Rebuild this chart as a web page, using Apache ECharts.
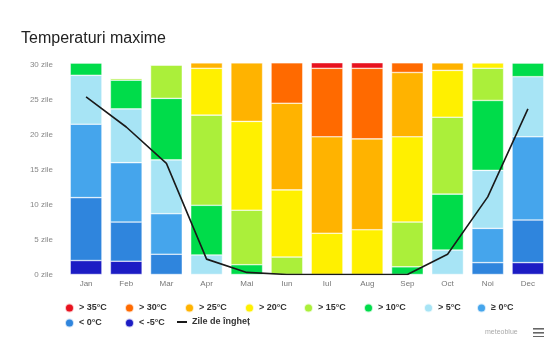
<!DOCTYPE html>
<html>
<head>
<meta charset="utf-8">
<title>Temperaturi maxime</title>
<script src="https://cdn.jsdelivr.net/npm/echarts@6/dist/echarts.min.js"></script>
<style>
  html, body { margin: 0; padding: 0; background: #fff; }
  #chart { width: 553px; height: 337px; }
</style>
</head>
<body>
<div id="chart"></div>
<script>
// Months
const months = ['Jan', 'Feb', 'Mar', 'Apr', 'Mai', 'Iun', 'Iul', 'Aug', 'Sep', 'Oct', 'Noi', 'Dec'];

// Days per month with daily maximum temperature in each band
const below5  = [2.0, 1.9, 0,   0,    0,    0,    0,    0,    0,    0,    0,    1.7];   // < -5°C
const below0  = [9.0, 5.6, 2.9, 0,    0,    0,    0,    0,    0,    0,    1.7,  6.1];   // < 0°C
const above0  = [10.5, 8.5, 5.8, 0,   0,    0,    0,    0,    0,    0,    4.9,  11.9];  // ≥ 0°C
const above5  = [7.0, 7.7, 7.7, 2.8,  0,    0,    0,    0,    0,    3.5,  8.3,  8.6];   // > 5°C
const above10 = [1.8, 4.1, 8.8, 7.1,  1.4,  0,    0,    0,    1.1,  8.0,  10.0, 2.0];   // > 10°C
const above15 = [0,   0.3, 4.8, 12.9, 7.8,  2.5,  0,    0,    6.4,  11.0, 4.6,  0];     // > 15°C
const above20 = [0,   0,   0,   6.7,  12.7, 9.6,  5.9,  6.4,  12.2, 6.7,  0.8,  0];     // > 20°C
const above25 = [0,   0,   0,   0.8,  8.4,  12.4, 13.8, 13.0, 9.2,  1.1,  0,    0];     // > 25°C
const above30 = [0,   0,   0,   0,    0,    5.8,  9.8,  10.1, 1.4,  0,    0,    0];     // > 30°C
const above35 = [0,   0,   0,   0,    0,    0,    0.8,  0.8,  0,    0,    0,    0];     // > 35°C

// Frost days per month
const frostDays = [25.4, 21.1, 15.9, 2.2, 0.3, 0, 0, 0, 0, 2.9, 11.1, 23.7];

// Y axis tick labels
const yTicks = [0, 5, 10, 15, 20, 25, 30];

// Bands, bottom of the stack first
const bands = [
  { name: '< -5°C', data: below5,  color: '#1c1cc4' },
  { name: '< 0°C',  data: below0,  color: '#2f85dd' },
  { name: '≥ 0°C',  data: above0,  color: '#45a5ec' },
  { name: '> 5°C',  data: above5,  color: '#a7e4f5' },
  { name: '> 10°C', data: above10, color: '#00dc4a' },
  { name: '> 15°C', data: above15, color: '#abef3a' },
  { name: '> 20°C', data: above20, color: '#fff000' },
  { name: '> 25°C', data: above25, color: '#ffb300' },
  { name: '> 30°C', data: above30, color: '#ff6a00' },
  { name: '> 35°C', data: above35, color: '#e8121e' }
];
const frostName = 'Zile de îngheț';

const series = bands.map(b => ({
  name: b.name,
  type: 'bar',
  stack: 'days',
  data: b.data,
  barCategoryGap: '21%',
  itemStyle: { color: b.color, borderColor: 'rgba(255,255,255,0.75)', borderWidth: 0.6 },
  emphasis: { disabled: true }
}));
series.push({
  name: frostName,
  type: 'line',
  data: frostDays,
  symbol: 'none',
  z: 5,
  lineStyle: { color: '#1a1a1a', width: 1.6 },
  itemStyle: { color: '#1a1a1a' }
});

// Legend layout: one small legend per entry, two rows
const legendRows = [
  { y: 308, items: [['> 35°C', 64], ['> 30°C', 124], ['> 25°C', 184], ['> 20°C', 244], ['> 15°C', 303], ['> 10°C', 363], ['> 5°C', 423], ['≥ 0°C', 476]] },
  { y: 323, items: [['< 0°C', 64], ['< -5°C', 124]] }
];
const legendText = { fontFamily: 'Liberation Sans, Arial, sans-serif', fontSize: 9, fontWeight: 'bold', color: '#333' };
const legends = [];
legendRows.forEach(row => {
  row.items.forEach(([name, x]) => {
    legends.push({
      data: [name], left: x, top: row.y - 5.5, padding: 0,
      icon: 'circle', itemWidth: 9, itemHeight: 9, itemGap: 5,
      textStyle: legendText, selectedMode: true
    });
  });
});
legends.push({
  data: [{ name: frostName, icon: 'rect' }], left: 177, top: 323 - 5.5, padding: 0,
  itemWidth: 10, itemHeight: 2, textStyle: legendText
});

const chart = echarts.init(document.getElementById('chart'), null, { renderer: 'canvas' });
chart.setOption({
  animation: false,
  backgroundColor: '#ffffff',
  title: {
    text: 'Temperaturi maxime',
    left: 21, top: 31, padding: 0,
    textStyle: { fontFamily: 'Liberation Sans, Arial, sans-serif', fontSize: 16, fontWeight: 'normal', color: '#222' }
  },
  legend: legends,
  grid: { left: 66, right: 5, top: 62, bottom: 62.5, containLabel: false },
  xAxis: {
    type: 'category',
    data: months,
    axisLine: { show: false },
    axisTick: { show: false },
    axisLabel: { color: '#777', fontSize: 8, margin: 5, fontFamily: 'Liberation Sans, Arial, sans-serif' }
  },
  yAxis: {
    type: 'value',
    min: 0,
    max: 30.4,
    interval: 5,
    splitLine: { show: false },
    axisLine: { show: false },
    axisTick: { show: false },
    axisLabel: {
      color: '#888', fontSize: 8, margin: 13, fontFamily: 'Liberation Sans, Arial, sans-serif',
      formatter: v => yTicks.indexOf(Math.round(v * 100) / 100) >= 0 ? v + ' zile' : ''
    }
  },
  series: series,
  graphic: [
    { type: 'text', left: 485, top: 329, style: { text: 'meteoblue', fill: '#aaa', font: '7px Liberation Sans, Arial, sans-serif' } },
    { type: 'rect', shape: { x: 533, y: 328, width: 11, height: 1.6 }, style: { fill: '#666' } },
    { type: 'rect', shape: { x: 533, y: 332, width: 11, height: 1.6 }, style: { fill: '#666' } },
    { type: 'rect', shape: { x: 533, y: 336, width: 11, height: 1.6 }, style: { fill: '#666' } }
  ]
});
</script>
</body>
</html>
